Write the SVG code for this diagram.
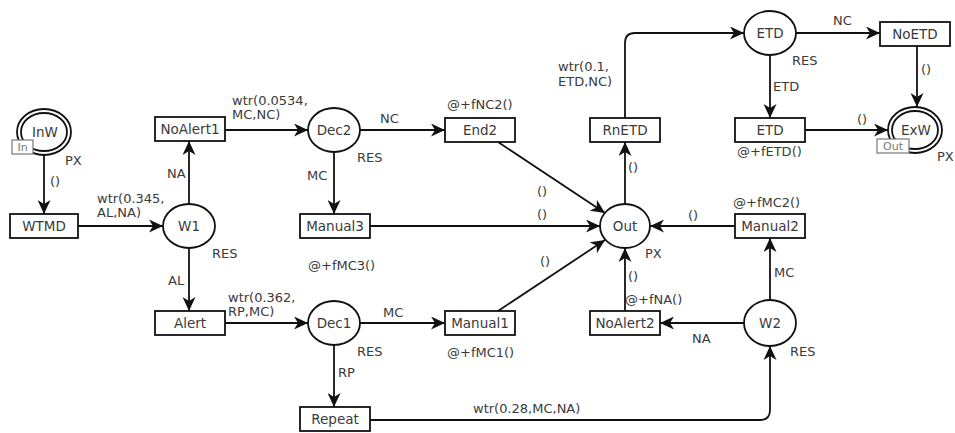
<svg xmlns="http://www.w3.org/2000/svg" width="955" height="433" viewBox="0 0 955 433">
<style>
text{font-family:"DejaVu Sans","Liberation Sans",sans-serif;font-size:13px;fill:#3a3a3a}
.n text{text-anchor:middle;font-size:13.5px}
.n rect,.n ellipse{fill:#fff;stroke:#111;stroke-width:1.8}
.tag rect{fill:#fff;stroke:#777;stroke-width:1.2}
.tag text{fill:#777;font-size:11px}
#edges path{fill:none;stroke:#111;stroke-width:1.8;marker-end:url(#ah)}
</style>
<defs>
<marker id="ah" markerUnits="userSpaceOnUse" markerWidth="15" markerHeight="13" refX="14" refY="6.5" orient="auto">
<path d="M0,0 L14,6.5 L0,13 L4,6.5 Z" fill="#111"/>
</marker>
</defs>
<rect width="955" height="433" fill="#fff"/>
<g id="edges">
<path d="M44,155 L44,214"/>
<path d="M78,226 L163,226"/>
<path d="M189,204 L189,141"/>
<path d="M189,248 L189,311"/>
<path d="M225,130 L308,130"/>
<path d="M360,130 L445,130"/>
<path d="M334,152 L334,214"/>
<path d="M225,323 L308,323"/>
<path d="M360,323 L445,323"/>
<path d="M334,345 L334,407"/>
<path d="M370,420 L760,420 Q770,420 770,410 L770,346"/>
<path d="M498,142 L605,213"/>
<path d="M370,226 L600,226"/>
<path d="M498,311 L605,240"/>
<path d="M735,226 L650,226"/>
<path d="M625,311 L625,248"/>
<path d="M625,204 L625,142"/>
<path d="M744,323 L660,323"/>
<path d="M770,300 L770,238"/>
<path d="M625,118 L625,43 Q625,33 635,33 L744,33"/>
<path d="M796,33 L880,33"/>
<path d="M770,55 L770,118"/>
<path d="M917,46 L917,107"/>
<path d="M805,130 L888,130"/>
</g>
<g id="InW" class="n">
<ellipse cx="44" cy="132" rx="27" ry="23"/>
<ellipse cx="44" cy="132" rx="23" ry="19"/>
<text x="45" y="137">InW</text>
<g class="tag"><rect x="12" y="140" width="21" height="14"/><text x="22.5" y="151">In</text></g>
</g>
<g id="WTMD" class="n"><rect x="10" y="214" width="68" height="24"/><text x="44" y="231">WTMD</text></g>
<g id="W1" class="n"><ellipse cx="189" cy="226" rx="26" ry="22"/><text x="189" y="231">W1</text></g>
<g id="NoAlert1" class="n"><rect x="155" y="117" width="70" height="24"/><text x="190" y="134">NoAlert1</text></g>
<g id="Alert" class="n"><rect x="155" y="311" width="70" height="24"/><text x="190" y="328">Alert</text></g>
<g id="Dec2" class="n"><ellipse cx="334" cy="130" rx="26" ry="22"/><text x="334" y="135">Dec2</text></g>
<g id="Dec1" class="n"><ellipse cx="334" cy="323" rx="26" ry="22"/><text x="334" y="328">Dec1</text></g>
<g id="Manual3" class="n"><rect x="300" y="214" width="70" height="24"/><text x="335" y="231">Manual3</text></g>
<g id="Repeat" class="n"><rect x="300" y="407" width="70" height="24"/><text x="335" y="424">Repeat</text></g>
<g id="End2" class="n"><rect x="445" y="118" width="70" height="24"/><text x="480" y="135">End2</text></g>
<g id="Manual1" class="n"><rect x="445" y="311" width="70" height="24"/><text x="480" y="328">Manual1</text></g>
<g id="Out" class="n"><ellipse cx="625" cy="226" rx="25" ry="22"/><text x="625" y="231">Out</text></g>
<g id="RnETD" class="n"><rect x="590" y="118" width="70" height="24"/><text x="625" y="135">RnETD</text></g>
<g id="NoAlert2" class="n"><rect x="590" y="311" width="70" height="24"/><text x="625" y="328">NoAlert2</text></g>
<g id="Manual2" class="n"><rect x="735" y="214" width="70" height="24"/><text x="770" y="231">Manual2</text></g>
<g id="W2" class="n"><ellipse cx="770" cy="323" rx="26" ry="23"/><text x="770" y="328">W2</text></g>
<g id="ETDplace" class="n"><ellipse cx="770" cy="33" rx="26" ry="22"/><text x="770" y="38">ETD</text></g>
<g id="ETD" class="n"><rect x="735" y="118" width="70" height="24"/><text x="770" y="135">ETD</text></g>
<g id="NoETD" class="n"><rect x="880" y="22" width="70" height="24"/><text x="915" y="39">NoETD</text></g>
<g id="ExW" class="n">
<ellipse cx="915" cy="130" rx="27" ry="23"/>
<ellipse cx="915" cy="130" rx="23" ry="19"/>
<text x="916" y="135">ExW</text>
<g class="tag"><rect x="877" y="139" width="32" height="14"/><text x="893" y="150">Out</text></g>
</g>
<g id="labels">
<text x="50" y="186">()</text>
<text x="65" y="165">PX</text>
<text x="97" y="203">wtr(0.345,</text>
<text x="97" y="217">AL,NA)</text>
<text x="167" y="178">NA</text>
<text x="212" y="258">RES</text>
<text x="168" y="285">AL</text>
<text x="232" y="105">wtr(0.0534,</text>
<text x="232" y="119">MC,NC)</text>
<text x="380" y="123">NC</text>
<text x="357" y="162">RES</text>
<text x="307" y="180">MC</text>
<text x="308" y="270">@+fMC3()</text>
<text x="228" y="302">wtr(0.362,</text>
<text x="228" y="316">RP,MC)</text>
<text x="383" y="317">MC</text>
<text x="357" y="356">RES</text>
<text x="338" y="377">RP</text>
<text x="447" y="109">@+fNC2()</text>
<text x="447" y="357">@+fMC1()</text>
<text x="537" y="196">()</text>
<text x="537" y="219">()</text>
<text x="540" y="266">()</text>
<text x="645" y="258">PX</text>
<text x="628" y="172">()</text>
<text x="628" y="281">()</text>
<text x="625" y="304">@+fNA()</text>
<text x="688" y="220">()</text>
<text x="733" y="207">@+fMC2()</text>
<text x="774" y="277">MC</text>
<text x="692" y="343">NA</text>
<text x="790" y="356">RES</text>
<text x="473" y="413">wtr(0.28,MC,NA)</text>
<text x="558" y="71">wtr(0.1,</text>
<text x="558" y="86">ETD,NC)</text>
<text x="833" y="25">NC</text>
<text x="792" y="65">RES</text>
<text x="773" y="91">ETD</text>
<text x="737" y="156">@+fETD()</text>
<text x="857" y="124">()</text>
<text x="921" y="74">()</text>
<text x="937" y="161">PX</text>
</g>
</svg>
